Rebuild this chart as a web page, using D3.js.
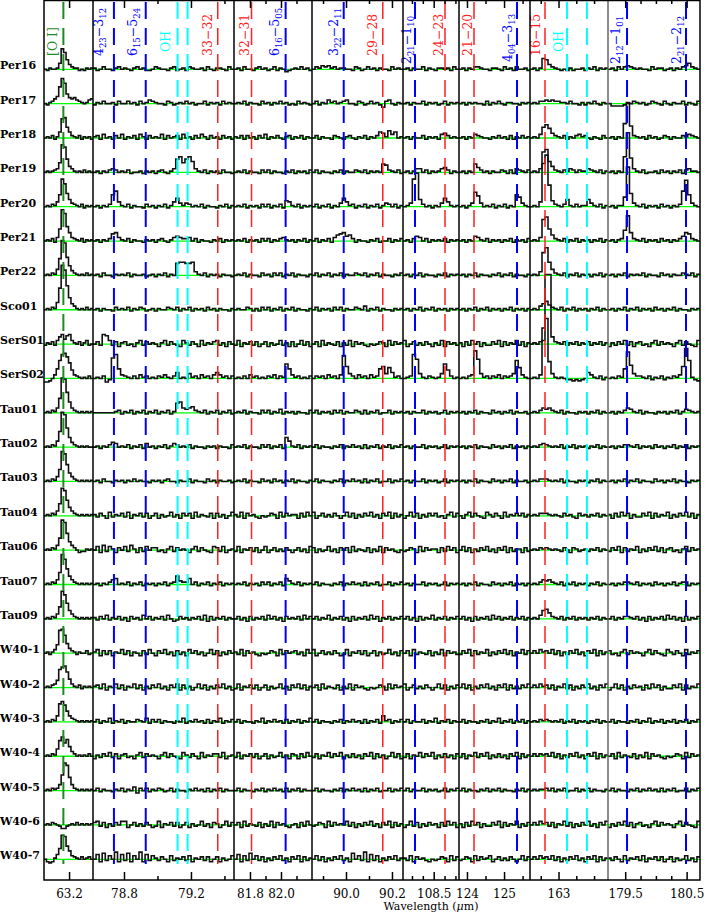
<!DOCTYPE html>
<html>
<head>
<meta charset="utf-8">
<script src="https://cdnjs.cloudflare.com/ajax/libs/d3/7.8.5/d3.min.js"></script>
<style>
body { margin: 0; background: #fff; }
svg text { font-family: "DejaVu Serif", serif; }
</style>
</head>
<body>
<svg id="chart" width="706" height="914"></svg>
<script>
// source names, top to bottom
var rowNames = ["Per16", "Per17", "Per18", "Per19", "Per20", "Per21", "Per22", "Sco01",
    "SerS01", "SerS02", "Tau01", "Tau02", "Tau03", "Tau04", "Tau06", "Tau07", "Tau09",
    "W40-1", "W40-2", "W40-3", "W40-4", "W40-5", "W40-6", "W40-7"];

// wavelength window of each panel (micron)
var panelDomains = [[63.112, 63.284], [78.615, 79.457], [81.697, 82.2], [89.852, 90.248],
    [107.794, 109.082], [123.785, 125.70], [162.599, 163.696], [179.22, 180.718]];
var majorTicks = [[63.2], [78.8, 79.2], [81.8, 82.0], [90.0, 90.2], [108.5], [124, 125], [163], [179.5, 180.5]];
var minorTicks = [[], [79.0, 79.4], [81.9, 82.1], [89.9, 90.1], [108.0, 108.25, 108.75, 109.0],
    [124.5, 125.5], [162.75, 163.25, 163.5], [179.75, 180.0, 180.25]];
var tickFormats = [".1f", ".1f", ".1f", ".1f", ".1f", "d", "d", ".1f"];

// line positions, labels and species
var lineWaves = [[63.18], [78.74, 78.93, 79.12, 79.18, 79.36], [81.81, 82.03], [89.99, 90.16],
    [108.07, 108.76], [124.19, 125.35], [162.81, 163.12, 163.40], [179.53, 180.49]];
var lineLabels = [["[O I]"], ["4_{23}−3_{12}", "6_{15}−5_{24}", "OH", "", "33−32"], ["32−31", "6_{16}−5_{05}"],
    ["3_{22}−2_{11}", "29−28"], ["2_{21}−1_{10}", "24−23"], ["21−20", "4_{04}−3_{13}"],
    ["16−15", "OH", ""], ["2_{12}−1_{01}", "2_{21}−2_{12}"]];
var lineSpecies = [["OI"], ["H2O", "H2O", "OH", "OH", "CO"], ["CO", "H2O"], ["H2O", "CO"],
    ["H2O", "CO"], ["CO", "H2O"], ["CO", "OH", "OH"], ["H2O", "H2O"]];

// continuum-subtracted flux, one row per source, panels split by "|", one char per bin
// (char index in fluxCode minus 3 = flux in arbitrary units; spaces are ignored)
var fluxCode = "0123456789abcdefghijklmnopqrstuvwxyzABCDEFGHIJKLMNOPQRSTUVWXYZ";
var fluxRows = [
    // Per16
    "3243348khb7544232434|4235332453 4324534223 5433245234 2543342532 443253|3425332453 4235243123 435342|3546564534 4332542353 4243325343|342433524324434253|3424355433 2443253425 3342|3424cb7543 2324233424 352434|3425356543 4332534423 4243568543",
    // Per17
    "324579hokb8786543467|2435334253 3534253465 4332542343 5342335243 425343|3435243325 3424353423 253432|3524364534 5633254235 3420563243|342433524342352434|3424343325 2435324433 2434|3435565655 4435332424 353243|3111124354 3423543253 2433524325",
    // Per18
    "3435248jkc8543524342|4526342536 2435264253 4362534526 3425364253 425342|4352534253 6243532452 435243|3524332543 2453243524 3587496834|342433524342675343|3424365433 2435342524 3534|3436ceb754 3524356453 243253|34243fwd54 3425342354 2433546543",
    // Per19
    "343456bqoe8643435343|3424356534 3523342434 2453246egb egc6435243 425332|3435243325 3524332435 243425|3524332435 2433543524 343a954352|342466352434675243|34243a7534 2433542526 5435|3436kmc854 3546535446 543524|34243gAf64 3523342534 2435256443",
    // Per20
    "343547dqme9654352434|342435dg74 3524332534 2435247a64 6534352433 243524|3435243425 3524352874 352434|3524352436 a745243524 3524653524|346qv95342436a7434|34246fc634 352435243d b643|3437DKl854 3594353449 643524|34244bAe64 3524342534 2435gpd643",
    // Per21
    "343526dtqfa654352434|3424359a64 3524332434 2453246765 5635243324 352434|3435243425 3524356434 243524|3524352689 a785243324 3523352435|342576352434352434|3424376435 2434243524 3425|3436lnd854 3524352434 243524|34245coa54 3524342534 24357a9543",
    // Per22
    "343548hwuib754343534|3425332434 3524334234 2435243dee dde6435243 424332|3435243325 3425352435 243324|3524352435 2433543524 3524332435|342435243324352434|3424352433 2435243524 3324|3436mqe854 3524352434 243524|3424352434 3524332534 2433543524",
    // Sco01
    "343549lEAnd864343534|3424332534 3524354234 2433543524 3524342534 243324|3433542425 3524352435 243324|3524342535 2433543624 3524332434|342435243524342434|3424352435 2434243524 3424|34368a7543 5243524342 435243|3424352435 2434253424 3524332434",
    // SerS01
    "2435269b7ab643524623|352ba62514 5231462534 3146253216 4253162435 624153|2614352513 5142362415 136251|3516243251 4261534213 2354162534|613524253142615342|4152635142 2536152436 2514|34356ZZ954 3524352435 243524|1425362514 5231462534 3146253216",
    // SerS02
    "00136binolga65434353|343502knb6 5435364534 3546435834 3745364536 864535|3435364534 3546354fb6 453435|3545364536 md75364536 45bd7c8453|345nj74354347fa534|34356qj745 354635457i c643|3436JRh743 4322121238 643524|34354bpe75 5435243524 3546dsi421",
    // Tau01
    "343547fwvkc754343434|3333333452 4352435243 5243524bc7 6785435243 524352|3435243325 3524362434 243325|3524342535 2433542524 3523352434|342433524342352434|3424352433 2534243524 3342|3435767543 5243324342 435243|3424357643 5243324342 4352465434",
    // Tau02
    "343548gwujb754343433|3424357634 3524352634 2435246534 3524332434 243325|3435243325 3524352b84 352434|3524332435 2435342524 3524352435|342433524342352434|3424352433 2534243524 3424|3435654343 5243524342 435243|3424355435 2434253424 3524352434",
    // Tau03
    "343547dsqha754343434|3425332434 2435343324 3424533243 3524332534 243342|3435243325 3425342435 243324|3524332435 2435342524 3523352435|342433524342352434|3424352433 2534243524 3342|3435554343 5243324342 435243|3424352435 2433253424 3524332434",
    // Tau04
    "343547dqoga754343434|4253162435 2614352513 5142362415 3516243251 524136|4261534213 2354162534 415263|6135242531 3625142536 2415361524|136251425352314625|3146253216 4253162435 3524|3435554343 2534215342 435243|4152635142 2536152436 1425362514",
    // Tau06
    "343547dsqha753122434|3617264153 6274152635 5231462534 3146253216 526134|2614352513 6135242531 352416|5142362415 3516243251 4261534213|235416253441526351|3625142536 2415361524 4152|3435454343 2531542342 435243|2536152436 1425362514 5231462534",
    // Tau07
    "343547dsoga754343434|3424357834 3524352434 2435245a65 5835243524 352434|3435243425 3524352864 352434|3524332435 2435342524 3523352435|342433524342352434|3424352433 2534243524 3424|3435767543 5243524342 435243|3424355435 2434253424 3524552434",
    // Tau09
    "343547dqnga754343434|4253624352 4153426352 4352631253 4243526152 435243|3524152435 2635241534 352635|3524362435 2415243526 3514352435|352415243624352435|3524152435 2635243524 3524|3436ab8543 5243524342 435243|3524355435 2415243526 3524152435",
    // W40-1
    "34246amnib7542433523|4615251436 2514315263 1536241524 1635241362 514253|4261534213 2354162534 524163|6135242531 2614352513 5142362415|351624325142615342|2536152436 1425362514 3625|3536453625 1425362415 361524|5231462534 3146253216 4253162435",
    // W40-2
    "343569iklga643524343|4526143625 1436251425 3624153615 2413625142 536241|2614352513 5142362415 362514|3516243251 4261534213 2354162534|613524253136251425|3625142536 2415361524 2536|3536452514 3625142536 241536|1362514253 4152635142 2536152436",
    // W40-3
    "343548ikhc8654343434|3524362435 2433543625 3524332436 2435342524 362435|3524332436 2435342524 352436|3524332435 2435342524 3528452435|352433524362435243|3524332435 2436243524 3524|3435454343 5243524342 435243|3524332435 2436243524 3524352435",
    // W40-4
    "343549gjehb753434353|1425362514 5231462534 3146253216 4253162435 526134|2614352513 5142362415 415263|2514362536 1425241536 1524136251|251436253614252415|2514362536 1425241536 1524|3535453625 1425362415 361524|3516243251 4261534213 2354162534",
    // W40-5
    "3435458gqoe854343434|3524332435 2436153524 3542352433 2435342524 352433|3524332435 2435342524 352433|3524332435 2435342524 3523352435|352433524342352435|3524332435 2435243324 3524|3434453524 3523352435 243324|3524332435 2435342524 3523352435",
    // W40-6
    "34354320023435343434|5625142536 6135242531 2614352513 5142362415 413625|3516243251 4261534213 415263|2354162534 3625142536 2415361524|136251425341526351|4152635142 2536152436 1425|3536452514 3625142536 241536|1425362514 5231462534 3146253216",
    // W40-7
    "310147cnmea654353453|3718263917 2816391726 4253162435 2614352513 514236|3716283625 1425362415 361524|3625142536 2418362917 2614253624|426153421323541625|2354162534 6135242531 3625|3536453625 1425362415 361524|4253162435 2614352513 5142362415"
];

var svg = d3.select("#chart");

// layout
var panelEdges = [44, 93, 234, 312, 403, 459, 530, 608, 700];
var plotTop = 0, plotBottom = 880;
var speciesColor = {OI: "#1f8a1f", H2O: "#0000ff", OH: "#00ffff", CO: "#ff2020"};
// label baseline offset from its line (px), and labels whose start sits lower
var labelShift = [[-6], [-11, -9, -8, 0, -6], [-3, -7], [-6, -6], [-4, -2], [-2, -5], [-5, -4, 0], [-7, -5]];
var lowLabels = {"2_{21}−1_{10}": 64, "4_{04}−3_{13}": 62, "2_{12}−1_{01}": 64, "2_{21}−2_{12}": 64, "OH": 52};

var xScales = panelDomains.map(function (dom, p) {
    return d3.scaleLinear().domain(dom).range([panelEdges[p], panelEdges[p + 1]]);
});
var rowY = d3.scaleLinear().domain([0, rowNames.length - 1]).range([69.3, 859.3]);
var fluxY = d3.scaleLinear().domain([0, 50]).range([0, -60]);

// green zero levels
svg.append("g").selectAll("line")
    .data(rowNames)
    .enter().append("line")
    .attr("x1", panelEdges[0]).attr("x2", panelEdges[panelEdges.length - 1])
    .attr("y1", function (d, i) { return rowY(i); })
    .attr("y2", function (d, i) { return rowY(i); })
    .attr("stroke", "#00ff00").attr("stroke-width", 1.3);

// spectra as histograms
var step = d3.line().curve(d3.curveStepAfter)
    .x(function (d) { return d[0]; })
    .y(function (d) { return d[1]; });

var specG = svg.append("g");
fluxRows.forEach(function (row, i) {
    var panels = row.split("|");
    panels.forEach(function (raw, p) {
        var str = raw.replace(/ /g, "");
        var dom = panelDomains[p];
        var n = str.length;
        var dw = (dom[1] - dom[0]) / n;
        var pts = [];
        for (var k = 0; k < n; k++) {
            var v = fluxCode.indexOf(str[k]) - 3;
            pts.push([xScales[p](dom[0] + k * dw), rowY(i) + fluxY(v)]);
        }
        pts.push([xScales[p](dom[1]), pts[n - 1][1]]);
        specG.append("path")
            .attr("d", step(pts))
            .attr("fill", "none")
            .attr("stroke", "#111")
            .attr("stroke-width", 1.6);
    });
});

// dashed line markers + rotated labels
var lineG = svg.append("g");
lineWaves.forEach(function (waves, p) {
    waves.forEach(function (w, j) {
        var x = xScales[p](w);
        var sp = lineSpecies[p][j];
        lineG.append("line")
            .attr("x1", x).attr("x2", x)
            .attr("y1", 2).attr("y2", 864)
            .attr("stroke", speciesColor[sp])
            .attr("stroke-width", sp == "CO" ? 1.5 : 2)
            .attr("stroke-dasharray", "17,9");

        var label = lineLabels[p][j];
        if (!label) return;
        var yb = lowLabels[label] || 56;
        var t = lineG.append("text")
            .attr("transform", "translate(" + (x + labelShift[p][j]) + "," + yb + ") rotate(-90)")
            .attr("fill", speciesColor[sp])
            .attr("font-size", 12.5);
        var parts = label.split(/_\{([^}]*)\}/);
        parts.forEach(function (s, k) {
            if (!s) return;
            var ts = t.append("tspan").text(s);
            if (k % 2 == 1) ts.attr("font-size", 8.5).attr("dy", 3.2);
            else if (k > 0) ts.attr("dy", -3.2);
        });
    });
});

// panel separators and frame
svg.append("g").selectAll("line")
    .data(panelEdges.slice(1, -1))
    .enter().append("line")
    .attr("x1", function (d) { return d; }).attr("x2", function (d) { return d; })
    .attr("y1", plotTop).attr("y2", plotBottom)
    .attr("stroke", function (d, i) { return i == 6 ? "#666" : "#000"; })
    .attr("stroke-width", 1.5);

svg.append("rect")
    .attr("x", panelEdges[0]).attr("y", plotTop + 0.5)
    .attr("width", panelEdges[8] - panelEdges[0]).attr("height", plotBottom - plotTop - 0.5)
    .attr("fill", "none").attr("stroke", "#000").attr("stroke-width", 1.5);

// axes: labelled ticks at the bottom, mirrored ticks on top
xScales.forEach(function (xs, p) {
    var bot = svg.append("g").attr("transform", "translate(0," + plotBottom + ")");
    bot.append("g").call(d3.axisBottom(xs).tickValues(majorTicks[p]).tickSize(-8).tickPadding(9)
        .tickFormat(d3.format(tickFormats[p])));
    bot.append("g").call(d3.axisBottom(xs).tickValues(minorTicks[p]).tickSize(-4).tickFormat(""));

    var top = svg.append("g").attr("transform", "translate(0," + plotTop + ")");
    top.append("g").call(d3.axisTop(xs).tickValues(majorTicks[p]).tickSize(-8).tickFormat(""));
    top.append("g").call(d3.axisTop(xs).tickValues(minorTicks[p]).tickSize(-4).tickFormat(""));
});
svg.selectAll(".domain").remove();
svg.selectAll(".tick line").attr("stroke", "#000").attr("stroke-width", 1.5);
svg.selectAll(".tick text").attr("font-family", "DejaVu Serif").attr("font-size", 12).attr("fill", "#000");

// row names
svg.append("g").selectAll("text")
    .data(rowNames)
    .enter().append("text")
    .attr("x", 0)
    .attr("y", function (d, i) { return rowY(i); })
    .attr("font-size", 11)
    .attr("font-weight", "bold")
    .text(function (d) { return d; });

// x title
var xt = svg.append("text")
    .attr("x", 431).attr("y", 910)
    .attr("text-anchor", "middle")
    .attr("font-size", 11);
xt.append("tspan").text("Wavelength (");
xt.append("tspan").attr("font-style", "italic").text("μ");
xt.append("tspan").text("m)");
</script>
</body>
</html>
